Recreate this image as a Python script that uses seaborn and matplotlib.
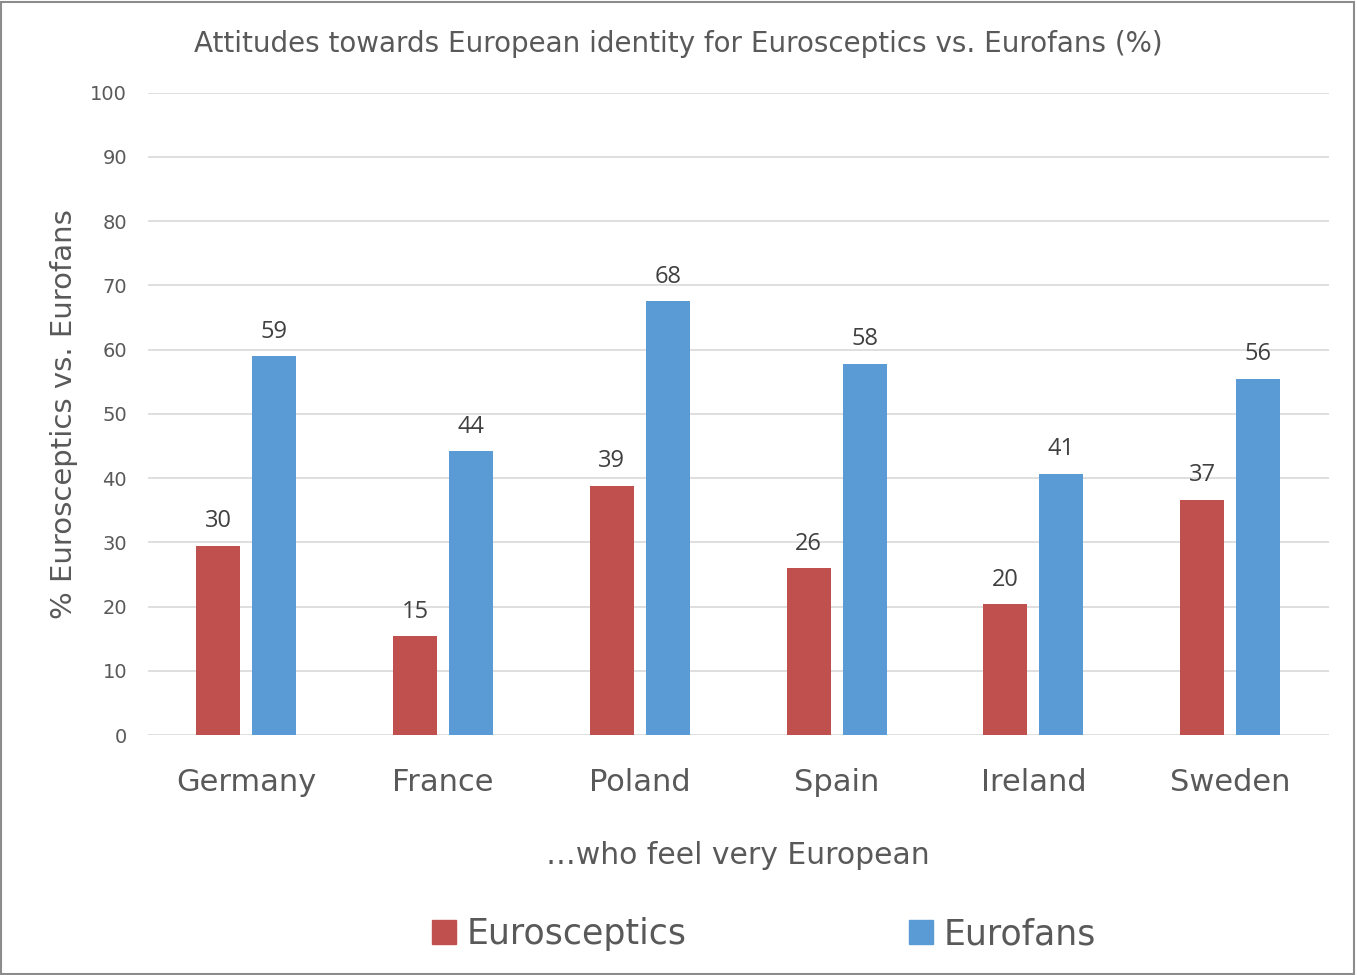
import pandas as pd
import matplotlib.pyplot as plt
import seaborn as sns
from matplotlib.patches import Rectangle

# values
countries = ['Germany', 'France', 'Poland', 'Spain', 'Ireland', 'Sweden']
eurosceptics = [29.5, 15.4, 38.8, 26.0, 20.4, 36.6]
eurofans = [59.0, 44.2, 67.5, 57.8, 40.7, 55.5]
groups = ['Eurosceptics', 'Eurofans']
colors = ['#C0504D', '#5B9BD5']

df = pd.DataFrame({
    'country': countries * 2,
    'group': [groups[0]] * len(countries) + [groups[1]] * len(countries),
    'value': eurosceptics + eurofans,
})

sns.set_style('white')
plt.rcParams['font.family'] = ['DejaVu Sans']

fig = plt.figure(figsize=(13.57, 9.75), dpi=100)
ax = fig.add_axes([0.109, 0.246, 0.870, 0.659])

sns.barplot(data=df, x='country', y='value', hue='group', palette=colors,
            width=0.57, gap=0.214, ax=ax, legend=False, saturation=1, linewidth=0)

for cont in ax.containers:
    ax.bar_label(cont, labels=[f'{v:.0f}' for v in cont.datavalues],
                 padding=9, fontsize=17, color='#404040', family='Open Sans')

ax.set_ylim(0, 100)
ax.set_yticks(range(0, 101, 10))
ax.set_xlim(-0.5, len(countries) - 0.5)
ax.yaxis.grid(True, color='#D9D9D9', linewidth=1.2)
ax.set_axisbelow(True)
for s in ax.spines.values():
    s.set_visible(False)
ax.tick_params(axis='y', length=0, labelsize=14, labelcolor='#595959', pad=15)
ax.tick_params(axis='x', length=0, labelsize=22, labelcolor='#595959', pad=24)
ax.set_xlabel('…who feel very European', fontsize=21.5, color='#595959', labelpad=31)
ax.set_ylabel('% Eurosceptics vs. Eurofans', fontsize=21, color='#595959', labelpad=9)

fig.text(0.5, 0.955, 'Attitudes towards European identity for Eurosceptics vs. Eurofans (%)',
         ha='center', va='center', fontsize=20, color='#595959')

handles = [Rectangle((0, 0), 1, 1, color=c) for c in colors]
fig.legend(handles, groups, loc='center', bbox_to_anchor=(0.563, 0.042), ncol=2,
           frameon=False, fontsize=25, labelcolor='#595959', handlelength=0.7,
           handleheight=0.7, handletextpad=0.3, columnspacing=6.4)

fig.patches.append(Rectangle((0.001, 0.001), 0.997, 0.997, transform=fig.transFigure,
                             fill=False, edgecolor='#8C8C8C', linewidth=1.5))

fig.savefig('out.png', dpi=100)
